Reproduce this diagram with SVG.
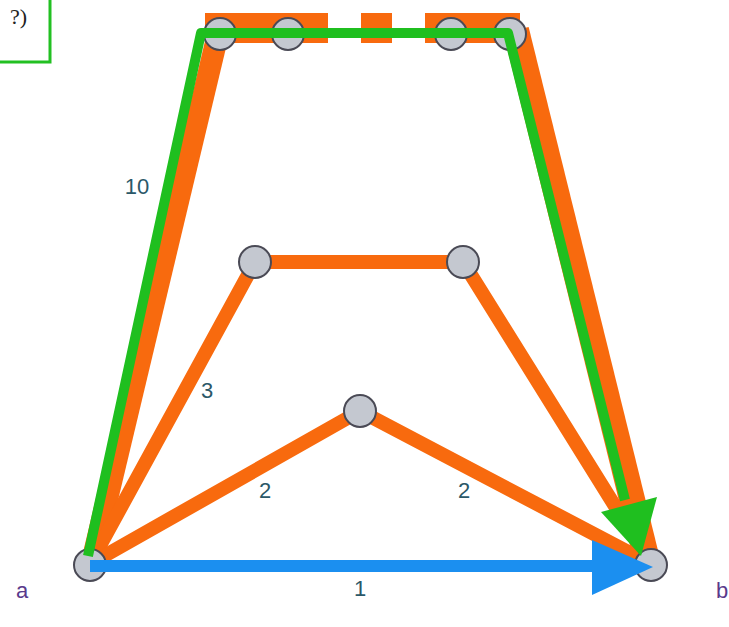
<svg xmlns="http://www.w3.org/2000/svg" width="729" height="627" viewBox="0 0 729 627">
<defs>
<style>
.o{stroke:#f86a0e;fill:none;stroke-linecap:butt;stroke-linejoin:round}
.g{stroke:#1fbf1f;fill:none;stroke-width:10;stroke-linejoin:round}
.n{fill:#c4c8d0;stroke:#4a4a55;stroke-width:2}
.l{font-family:"Liberation Sans","DejaVu Sans",sans-serif;font-size:22px;fill:#2b5868;text-anchor:middle}
.v{font-family:"Liberation Sans","DejaVu Sans",sans-serif;font-size:22px;fill:#5a3a8c;text-anchor:middle}
</style>
</defs>
<rect width="729" height="627" fill="#ffffff"/>
<g id="legend">
<rect x="-10" y="-10" width="60" height="72" fill="#ffffff" stroke="#22c022" stroke-width="3"/>
<text x="27" y="24" font-family="Liberation Serif,serif" font-size="22" fill="#222" text-anchor="end">?)</text>
</g>
<g id="connectors">
<line class="o" x1="205" y1="28" x2="328" y2="28" stroke-width="30"/>
<line class="o" x1="361" y1="28" x2="392" y2="28" stroke-width="30"/>
<line class="o" x1="425" y1="28" x2="520" y2="28" stroke-width="30"/>
<line class="o" x1="218" y1="34" x2="92" y2="562" stroke-width="22"/>
<line class="o" x1="516" y1="30" x2="646" y2="556" stroke-width="26"/>
<path class="o" d="M90,564 L255,262 L463,262 L651,564" stroke-width="14"/>
<path class="o" d="M90,564 L360,411 L651,564" stroke-width="14"/>
</g>
<g id="n-a"><circle class="n" cx="90" cy="565" r="16"/></g>
<g id="n-b"><circle class="n" cx="651" cy="565" r="16"/></g>
<g id="n-t1"><circle class="n" cx="220" cy="34" r="16"/></g>
<g id="n-t2"><circle class="n" cx="288" cy="34" r="16"/></g>
<g id="n-t3"><circle class="n" cx="451" cy="34" r="16"/></g>
<g id="n-t4"><circle class="n" cx="510" cy="34" r="16"/></g>
<g id="n-m1"><circle class="n" cx="255" cy="262" r="16"/></g>
<g id="n-m2"><circle class="n" cx="463" cy="262" r="16"/></g>
<g id="n-c"><circle class="n" cx="360" cy="411" r="16"/></g>
<g id="connectors-top">
<path class="g" d="M88,556 L201,33 L508,33 L625,500"/>
<polygon points="601,512 657,497 641,556" fill="#1fbf1f"/>
<line x1="90" y1="566" x2="600" y2="566" stroke="#1b8ff0" stroke-width="12"/>
<polygon points="592,540 653,567 592,595" fill="#1b8ff0"/>
</g>
<g id="labels">
<text class="l" x="137" y="194">10</text>
<text class="l" x="207" y="398">3</text>
<text class="l" x="265" y="498">2</text>
<text class="l" x="464" y="498">2</text>
<text class="l" x="360" y="596">1</text>
<text class="v" x="22" y="598">a</text>
<text class="v" x="722" y="598">b</text>
</g>
</svg>
